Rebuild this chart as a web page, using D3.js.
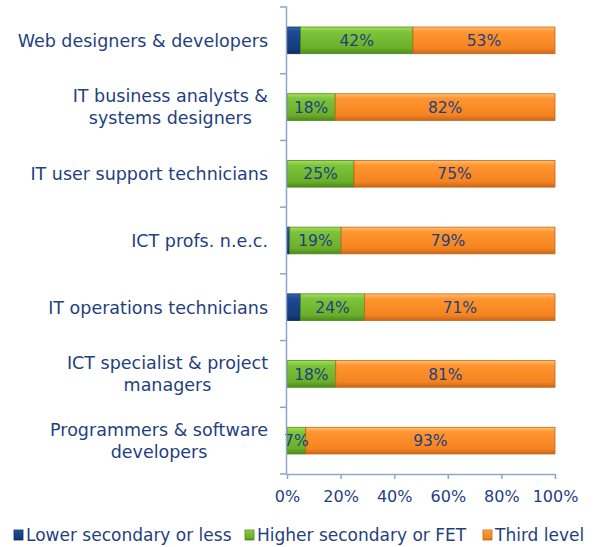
<!DOCTYPE html>
<html><head><meta charset="utf-8">
<script src="https://cdn.jsdelivr.net/npm/d3@7"></script>
<style>body{margin:0;background:#fff}svg{display:block}</style>
</head><body>
<svg id="c" width="595" height="547"></svg>
<script>
(function(){
const categories = [
  ["Web designers & developers"],
  ["IT business analysts &", "systems designers"],
  ["IT user support technicians"],
  ["ICT profs. n.e.c."],
  ["IT operations technicians"],
  ["ICT specialist & project", "managers"],
  ["Programmers & software", "developers"]
];
const lowerSecondary = [5, 0, 0, 1, 5, 0, 0];
const higherSecondary = [42, 18, 25, 19, 24, 18, 7];
const thirdLevel = [53, 82, 75, 79, 71, 81, 93];
const seriesNames = ["Lower secondary or less", "Higher secondary or FET", "Third level"];
const xTicks = [0, 0.2, 0.4, 0.6, 0.8, 1];

const txt = "#1F3F7F", axisCol = "#8FA5C9";
const font = "DejaVu Sans, Verdana, sans-serif";
const svg = d3.select("#c");
const pLeft = 287, pRight = 555, pTop = 7, pBottom = 474;

const keys = categories.map((c, i) => i);
const x = d3.scaleLinear().domain([0, 1]).range([pLeft, pRight]);
const y = d3.scaleBand().domain(keys).range([pTop, pBottom]).paddingInner(0.6).paddingOuter(0.3);

const rows = keys.map(i => {
  const vals = [lowerSecondary[i], higherSecondary[i], thirdLevel[i]];
  const tot = d3.sum(vals);
  let acc = 0;
  return vals.map((v, s) => { const r = {i, s, v, x0: acc / tot, x1: (acc + v) / tot}; acc += v; return r; });
});

const defs = svg.append("defs");
const pal = [
  ["#3366B0", "#1C4A94", "#163C7C", "#0F2C5E"],
  ["#A6E05A", "#7DC43A", "#6AAE2A", "#4C8A1A"],
  ["#FFC070", "#FF9530", "#F58420", "#C8661A"]
];
pal.forEach((p, k) => {
  const g = defs.append("linearGradient").attr("id", "g" + k).attr("x1", 0).attr("x2", 0).attr("y1", 0).attr("y2", 1);
  [[0, p[0]], [0.18, p[1]], [0.8, p[2]], [1, p[3]]].forEach(([o, c]) => g.append("stop").attr("offset", o).attr("stop-color", c));
});

const segs = rows.flat().filter(d => d.v > 0);
svg.append("g").selectAll("rect").data(segs).join("rect")
  .attr("x", d => x(d.x0)).attr("y", d => y(d.i))
  .attr("width", d => x(d.x1) - x(d.x0)).attr("height", y.bandwidth())
  .attr("fill", d => `url(#g${d.s})`)
  .attr("stroke", d => pal[d.s][3]).attr("stroke-width", 0.8);

svg.append("g").selectAll("text").data(segs.filter(d => d.s > 0)).join("text")
  .attr("x", d => (x(d.x0) + x(d.x1)) / 2).attr("y", d => y(d.i) + y.bandwidth() / 2)
  .attr("dy", "0.36em").attr("text-anchor", "middle")
  .attr("font-family", font).attr("font-size", 15.5).attr("fill", txt)
  .text(d => d.v + "%");

const ya = svg.append("g");
ya.append("line").attr("x1", pLeft - 0.5).attr("x2", pLeft - 0.5).attr("y1", pTop).attr("y2", pBottom).attr("stroke", axisCol).attr("stroke-width", 1.5);
const bounds = d3.range(categories.length + 1).map(k => pTop + k * y.step());
ya.selectAll("line.t").data(bounds).join("line").attr("class", "t")
  .attr("x1", pLeft - 7).attr("x2", pLeft).attr("y1", d => d).attr("y2", d => d)
  .attr("stroke", axisCol).attr("stroke-width", 1.5);

const lab = svg.append("g").attr("font-family", font).attr("font-size", 17.5).attr("fill", txt);
categories.forEach((lines, i) => {
  const cy = y(i) + y.bandwidth() / 2;
  const g = lab.append("g");
  const lh = 22;
  const ts = lines.map((l, k) => g.append("text").attr("y", cy + (k - (lines.length - 1) / 2) * lh).attr("dy", "0.36em").attr("text-anchor", "middle").text(l));
  const w = d3.max(ts, t => t.node().getComputedTextLength());
  ts.forEach(t => t.attr("x", 268 - w / 2));
});

const xa = svg.append("g").attr("transform", `translate(0,${pBottom})`)
  .call(d3.axisBottom(x).tickValues(xTicks).tickFormat(d3.format(".0%")).tickSize(5).tickSizeOuter(0));
xa.select(".domain").attr("stroke", axisCol).attr("stroke-width", 1.5);
xa.selectAll(".tick line").attr("stroke", axisCol).attr("stroke-width", 1.5);
xa.selectAll(".tick text").attr("font-family", font).attr("font-size", 16).attr("fill", txt).attr("dy", "1.25em");

const lg = svg.append("g").attr("font-family", font).attr("font-size", 17).attr("fill", txt);
const lx = [14, 245, 483];
seriesNames.forEach((n, k) => {
  lg.append("rect").attr("x", lx[k]).attr("y", 530).attr("width", 9).attr("height", 10)
    .attr("fill", `url(#g${k})`).attr("stroke", pal[k][3]).attr("stroke-width", 0.8);
  lg.append("text").attr("x", lx[k] + 12).attr("y", 535).attr("dy", "0.36em").text(n);
});
})();
</script>
</body></html>
